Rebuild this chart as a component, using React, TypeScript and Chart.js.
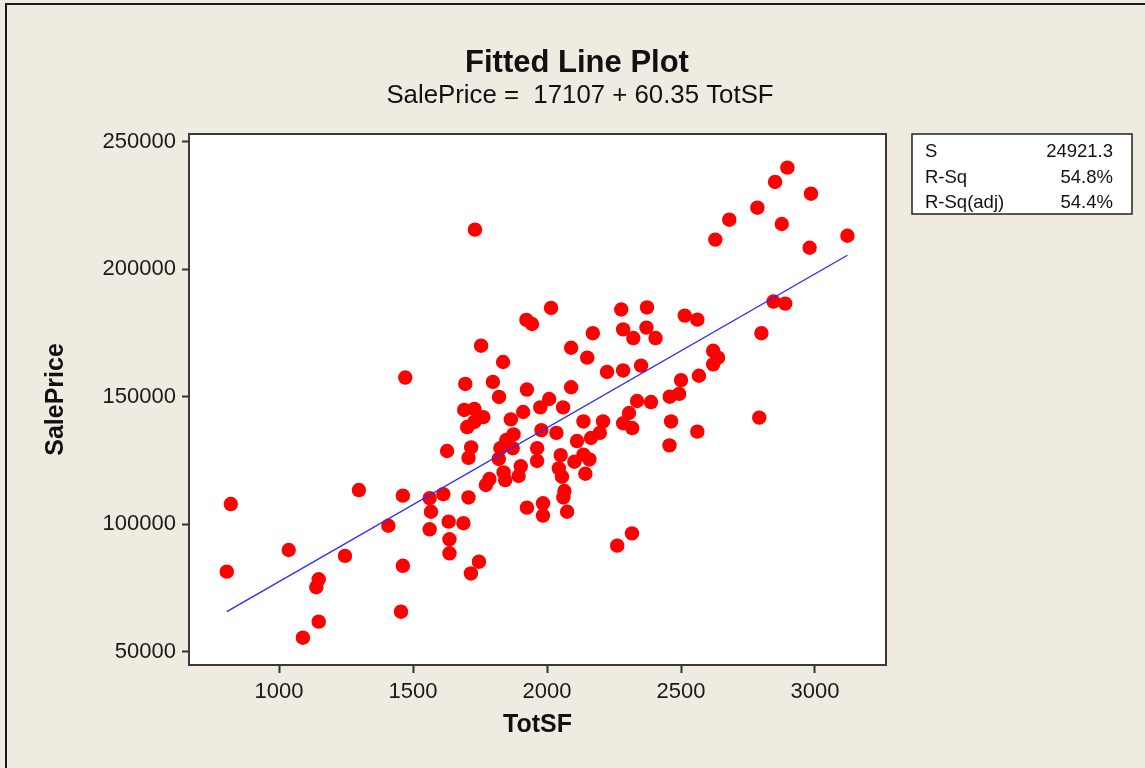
import React, { useEffect, useRef } from "react";
import { Chart, registerables } from "chart.js";

Chart.register(...registerables);

// ---- data ----
const totSF = [
  820, 805, 1036, 1298, 1462, 1408, 1246, 1462, 1148, 1139, 1148, 1089, 1455, 1471,
  1731, 2015, 1923, 1944, 2277, 2373, 2284, 2322, 2371, 2405, 2171, 1754, 2090, 1836,
  2150, 2224, 2284, 2351, 1695, 1798, 1925, 2090, 1821, 2008, 2336, 1975, 2060, 2388,
  2306, 2284, 2318, 2897, 2851, 2985, 2785, 2680, 2876, 2628, 3121, 2980, 2845, 2889,
  2800, 2514, 2561, 2620, 2638, 2620, 2567, 2500, 2493, 2458, 2463, 2561, 2457, 2792,
  2317, 2262, 1691, 1729, 1762, 1702, 1729, 1865, 1911, 1979, 2035, 2136, 2209, 2112,
  2164, 2197, 1848, 1875, 1826, 1872, 1717, 1707, 1627, 1820, 1963, 1963, 2051, 2102,
  2136, 2158, 2044, 2056, 2143, 1902, 1894, 1838, 1844, 1785, 1772, 2065, 2061, 2075,
  1925, 1985, 1985, 1613, 1562, 1567, 1707, 1633, 1688, 1562, 1636, 1636, 1746, 1716,
];
const salePrice = [
  107900, 81400, 89900, 113400, 111200, 99400, 87600, 83700, 78400, 75300, 61800, 55500, 65700, 157500,
  215500, 184800, 180100, 178500, 184200, 185000, 176400, 173000, 177100, 173000, 174900, 170000, 169200, 163600,
  165300, 159700, 160300, 162200, 155000, 155800, 152800, 153700, 149900, 149100, 148300, 145800, 145800, 147900,
  143600, 139600, 137700, 239800, 234200, 229600, 224100, 219400, 217700, 211600, 213100, 208400, 187300, 186500,
  174900, 181800, 180200, 168000, 165300, 162700, 158200, 156500, 151100, 150000, 140300, 136300, 130900, 141800,
  96400, 91600, 144800, 145200, 142000, 138100, 140100, 141100, 144000, 136900, 135800, 140300, 140300, 132600,
  133800, 135800, 133000, 135200, 129800, 129800, 130100, 126000, 128700, 125600, 129800, 124800, 127100, 124500,
  127300, 125400, 121900, 118600, 119800, 122700, 118900, 120300, 117300, 117700, 115400, 113000, 110500, 104900,
  106500, 108200, 103400, 111800, 110200, 104900, 110500, 101000, 100400, 98000, 94100, 88600, 85300, 80700,
];
const xTicks = [1000, 1500, 2000, 2500, 3000];
const yTicks = [50000, 100000, 150000, 200000, 250000];
const intercept = 17107;
const slope = 60.35;
const statLabels = ["S", "R-Sq", "R-Sq(adj)"];
const statValues = ["24921.3", "54.8%", "54.4%"];
const titleText = "Fitted Line Plot";
const subtitleText = "SalePrice =  17107 + 60.35 TotSF";
const xTitle = "TotSF";
const yTitle = "SalePrice";

const BG = "rgb(239,235,225)";
const FONT = "'Liberation Sans', Arial, sans-serif";

export default function App() {
  const ref = useRef<HTMLCanvasElement>(null);

  useEffect(() => {
    const canvas = ref.current;
    if (!canvas) return;
    const minX = Math.min(...totSF);
    const maxX = Math.max(...totSF);
    const fitLine = [
      { x: minX, y: intercept + slope * minX },
      { x: maxX, y: intercept + slope * maxX },
    ];
    const points = totSF.map((x, i) => ({ x, y: salePrice[i] }));

    const decor = {
      id: "decor",
      beforeDraw(chart: any) {
        const { ctx, chartArea: a } = chart;
        ctx.save();
        ctx.fillStyle = BG;
        ctx.fillRect(0, 0, chart.width, chart.height);
        ctx.fillStyle = "#ffffff";
        ctx.fillRect(a.left, a.top, a.right - a.left, a.bottom - a.top);
        // window border (top & left)
        ctx.strokeStyle = "#1a1a1a";
        ctx.lineWidth = 2;
        ctx.beginPath();
        ctx.moveTo(6, 768);
        ctx.lineTo(6, 4);
        ctx.lineTo(1145, 4);
        ctx.stroke();
        ctx.restore();
      },
      afterDraw(chart: any) {
        const { ctx, chartArea: a } = chart;
        ctx.save();
        // plot frame
        ctx.strokeStyle = "#3a3a3a";
        ctx.lineWidth = 2;
        ctx.strokeRect(a.left, a.top, a.right - a.left, a.bottom - a.top);
        // title + subtitle
        ctx.fillStyle = "#111";
        ctx.textAlign = "center";
        ctx.textBaseline = "alphabetic";
        ctx.font = `bold 31px ${FONT}`;
        ctx.fillText(titleText, 577, 72);
        ctx.font = `25.8px ${FONT}`;
        ctx.fillText(subtitleText, 580, 103);
        // stats box
        const bx = 912, by = 134, bw = 220, bh = 80;
        ctx.fillStyle = "#ffffff";
        ctx.fillRect(bx, by, bw, bh);
        ctx.strokeStyle = "#222";
        ctx.lineWidth = 1.5;
        ctx.strokeRect(bx, by, bw, bh);
        ctx.fillStyle = "#111";
        ctx.font = `18.5px ${FONT}`;
        ctx.textBaseline = "middle";
        statLabels.forEach((lab, i) => {
          const y = 152 + i * 25.5;
          ctx.textAlign = "left";
          ctx.fillText(lab, 925, y);
          ctx.textAlign = "right";
          ctx.fillText(statValues[i], 1113, y);
        });
        ctx.restore();
      },
    };

    const tickFont = { family: FONT, size: 22 };
    const titleFont = { family: FONT, size: 25, weight: "bold" as const };

    const chart = new Chart(canvas, {
      type: "scatter",
      data: {
        datasets: [
          {
            label: "Fit",
            data: fitLine,
            showLine: true,
            borderColor: "rgb(45,45,255)",
            borderWidth: 1.4,
            pointRadius: 0,
            order: 0,
          } as any,
          {
            label: "SalePrice",
            data: points,
            backgroundColor: "#ff0000",
            borderWidth: 0,
            pointRadius: 7.2,
            order: 1,
          },
        ],
      },
      options: {
        responsive: false,
        animation: false,
        devicePixelRatio: 1,
        layout: { padding: { left: 0, top: 134, right: 259, bottom: 0 } },
        plugins: {
          legend: { display: false },
          tooltip: { enabled: false },
          title: { display: false },
        },
        scales: {
          x: {
            type: "linear",
            min: 664,
            max: 3265,
            afterBuildTicks: (s: any) => {
              s.ticks = xTicks.map((v) => ({ value: v }));
            },
            afterFit: (s: any) => {
              s.height = 103;
            },
            grid: {
              drawOnChartArea: false,
              drawTicks: true,
              tickLength: 8,
              tickColor: "#333",
              tickWidth: 2,
            },
            border: { display: false },
            ticks: {
              padding: 6,
              color: "#1a1a1a",
              font: tickFont,
              maxRotation: 0,
              autoSkip: false,
              callback: (v: any) => String(v),
            },
            title: {
              display: true,
              text: xTitle,
              color: "#111",
              font: titleFont,
              padding: { top: 0, bottom: 28 },
            },
          },
          y: {
            type: "linear",
            min: 44800,
            max: 253000,
            afterBuildTicks: (s: any) => {
              s.ticks = yTicks.map((v) => ({ value: v }));
            },
            afterFit: (s: any) => {
              s.width = 189;
            },
            grid: {
              drawOnChartArea: false,
              drawTicks: true,
              tickLength: 7,
              tickColor: "#333",
              tickWidth: 2,
            },
            border: { display: false },
            ticks: {
              padding: 6,
              color: "#1a1a1a",
              font: tickFont,
              autoSkip: false,
              callback: (v: any) => String(v),
            },
            title: {
              display: true,
              text: yTitle,
              color: "#111",
              font: titleFont,
              padding: { top: 41, bottom: 0 },
            },
          },
        },
      },
      plugins: [decor],
    });
    return () => chart.destroy();
  }, []);

  return (
    <div
      style={{
        position: "fixed",
        left: 0,
        top: 0,
        width: 1145,
        height: 768,
        background: BG,
      }}
    >
      <canvas ref={ref} width={1145} height={768} style={{ display: "block" }} />
    </div>
  );
}
